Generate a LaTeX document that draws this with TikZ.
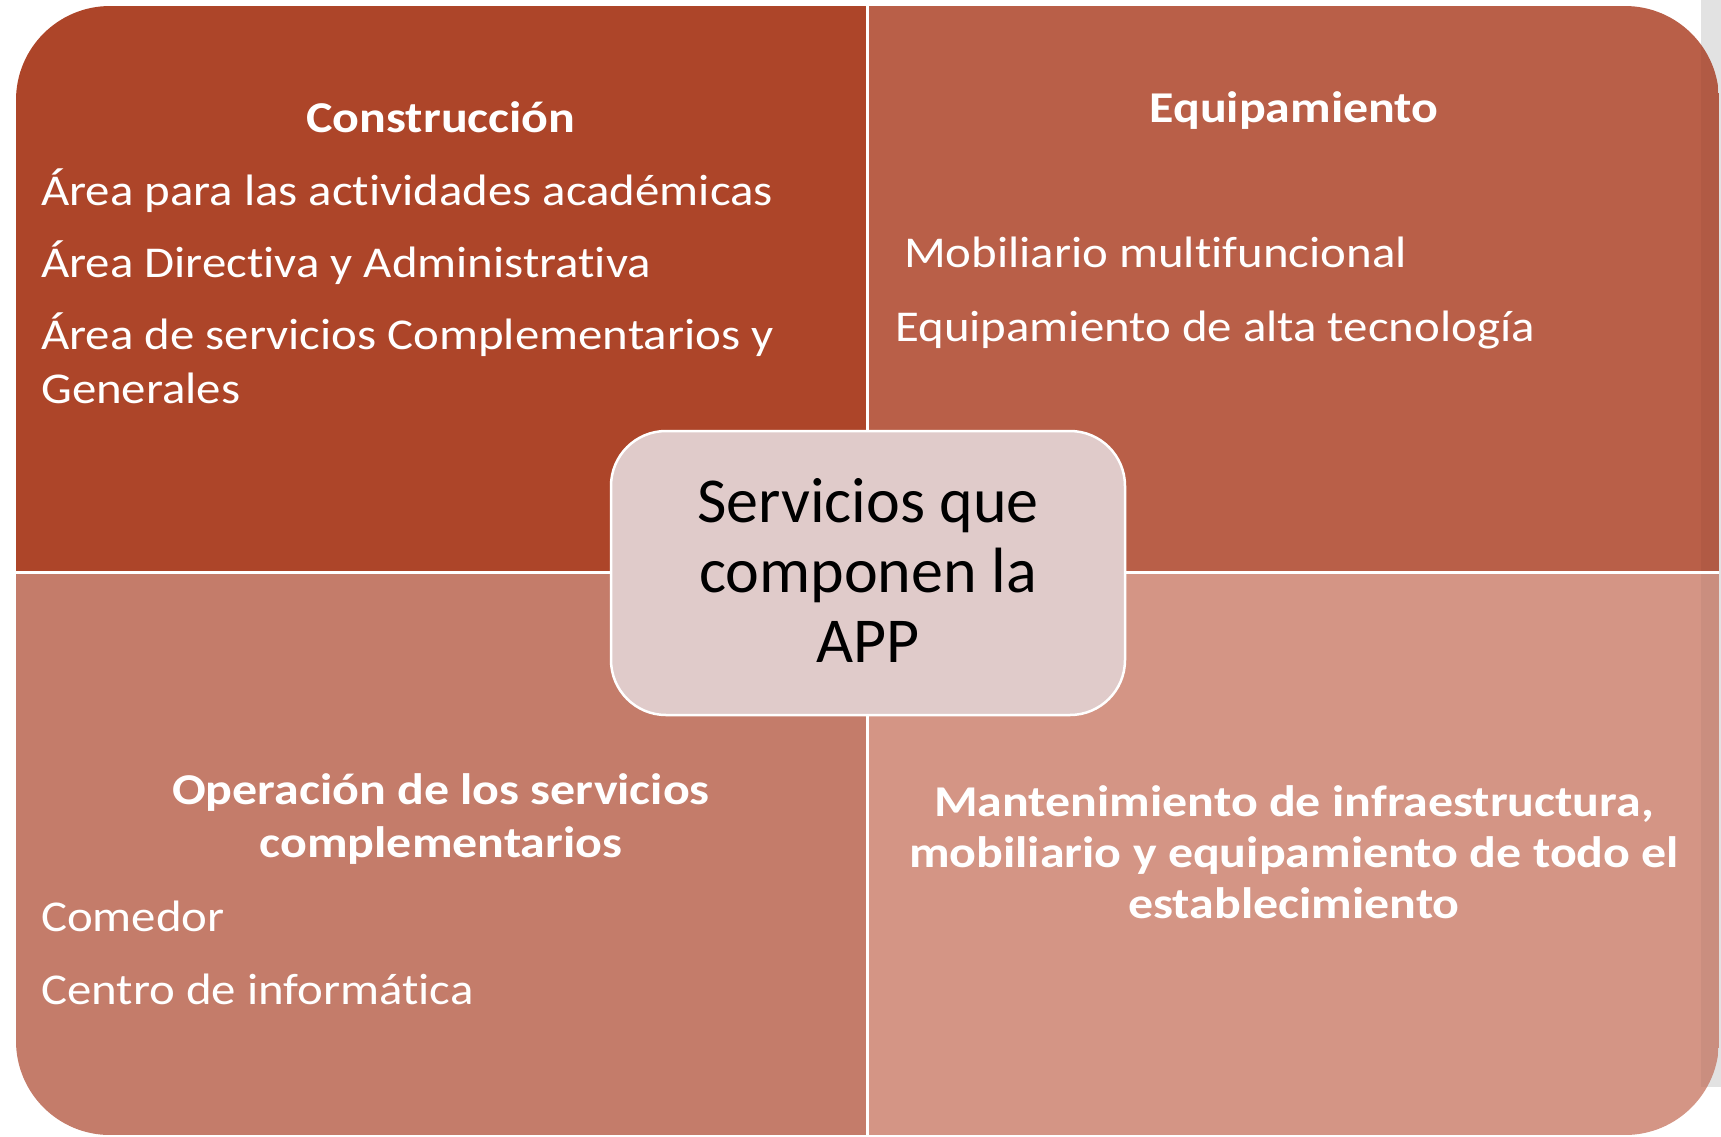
\documentclass[tikz,border=0pt]{standalone}
\usepackage{fontspec}
\setmainfont[Ligatures=NoCommon]{Carlito}
\newfontfamily\bodyfont[FakeStretch=1.11,Ligatures=NoCommon]{Carlito}
\newfontfamily\headfont[FakeStretch=1.135,Ligatures=NoCommon]{Carlito}
\definecolor{qA}{HTML}{AD4529}
\definecolor{qB}{HTML}{B95F48}
\definecolor{qC}{HTML}{C47C6A}
\definecolor{qD}{HTML}{D49585}
\definecolor{hubfill}{HTML}{E0CBCA}
\definecolor{stripgray}{HTML}{E2E2E2}
\begin{document}
\begin{tikzpicture}[x=1pt,y=-1pt,
  body/.style={text=white, font=\bodyfont\fontsize{44}{54}\selectfont, inner sep=0pt},
  bodyL/.style={body, anchor=base west},
  head/.style={text=white, font=\headfont\bfseries\fontsize{44}{54}\selectfont, inner sep=0pt, anchor=base},
  hubbox/.style={draw=white, line width=2.5pt, fill=hubfill, rounded corners=55pt,
    minimum width=514pt, minimum height=284pt, align=center, text=black,
    font=\fontsize{64}{70}\selectfont, inner sep=0pt},
  divider/.style={draw=white, line width=3pt}
]
\useasboundingbox (0,0) rectangle (1721,1136);
% grey strip at right edge
\fill[stripgray] (1701,0) rectangle (1721,1087);
% quadrants clipped to rounded outline
\begin{scope}
  \clip[rounded corners=94pt] (16,6) rectangle (1719,1135);
  \fill[qA] (16,6) rectangle (867,572);
  \fill[qB] (867,6) rectangle (1719,572);
  \fill[qC] (16,572) rectangle (867,1135);
  \fill[qD] (867,572) rectangle (1719,1135);
  \fill[black, opacity=0.045] (1701,0) rectangle (1721,1087);
  \draw[divider] (867,0) -- (867,1136);
  \draw[divider] (0,572) -- (1721,572);
\end{scope}
% centre
\node[hubbox] (hub) at (868,573) {};
\node[text=black, align=center, font=\fontsize{64}{70}\selectfont, inner sep=0pt] (hubtext) at (868,570) {Servicios que\\componen la\\APP};
% top left
\node[head] (tlh) at (441,132) {Construcción};
\node[bodyL] (tl1) at (41,205) {Área para las actividades académicas};
\node[bodyL] (tl2) at (41,277) {Área Directiva y Administrativa};
\node[bodyL] (tl3) at (41,349) {Área de servicios Complementarios y};
\node[bodyL] (tl4) at (41,403) {Generales};
% top right
\node[head] (trh) at (1294,122) {Equipamiento};
\node[bodyL] (tr1) at (904,267) {Mobiliario multifuncional};
\node[bodyL] (tr2) at (895,341) {Equipamiento de alta tecnología};
% bottom left
\node[head] (blh1) at (441,804) {Operación de los servicios};
\node[head] (blh2) at (441,857) {complementarios};
\node[bodyL] (bl1) at (41,931) {Comedor};
\node[bodyL] (bl2) at (41,1004) {Centro de informática};
% bottom right
\node[head] (brh1) at (1294,816) {Mantenimiento de infraestructura,};
\node[head] (brh2) at (1294,867) {mobiliario y equipamiento de todo el};
\node[head] (brh3) at (1294,918) {establecimiento};
\end{tikzpicture}
\end{document}
